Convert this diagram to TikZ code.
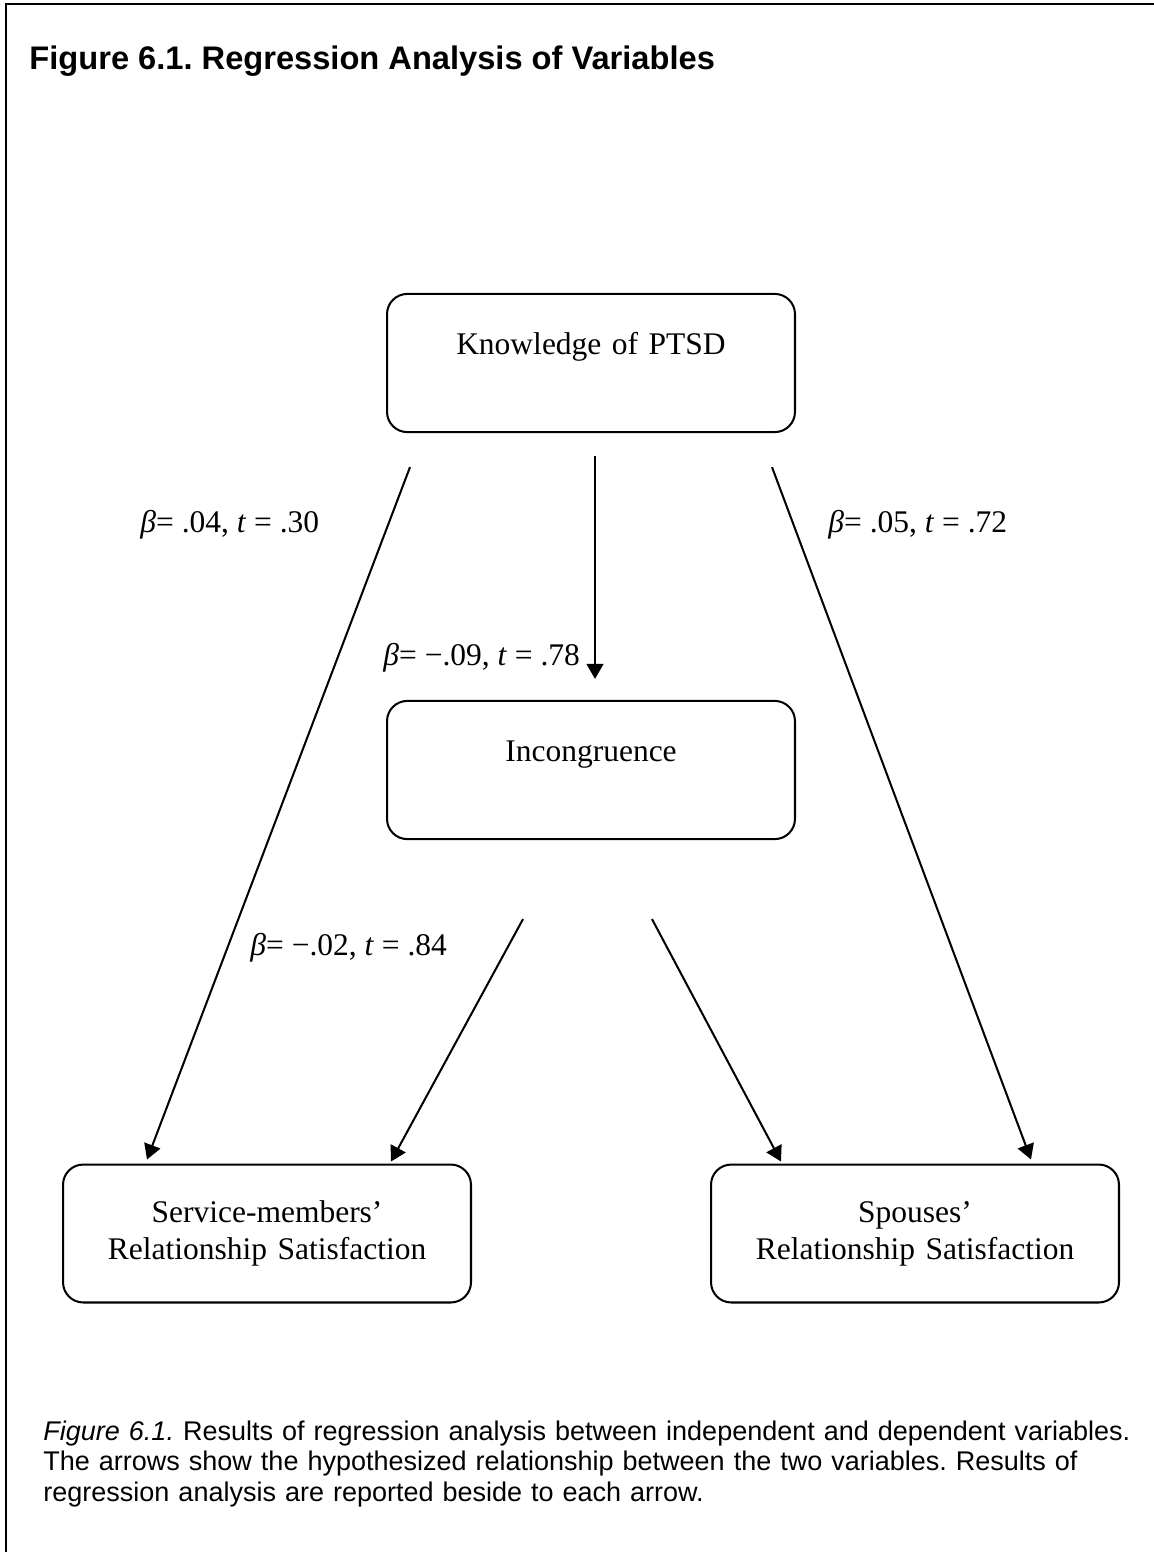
\documentclass[tikz,border=0pt]{standalone}
\usepackage{fontspec}
\setmainfont{Liberation Serif}
\newfontfamily\capfont{Liberation Sans}
\usetikzlibrary{arrows.meta,calc}
\frenchspacing

\begin{document}
\begin{tikzpicture}[x=0.4444pt,y=-0.4444pt,
  varbox/.style={draw,line width=0.9pt,rounded corners=9pt,minimum width=181.3pt,
    minimum height=61.3pt,inner sep=0pt,text width=181.3pt,align=center,
    font=\fontsize{14}{16.4}\selectfont},
  topbox/.style={varbox,text height=26.7pt,text depth=34.7pt},
  arr/.style={line width=0.9pt,-{Triangle[width=7.5pt,length=6.7pt]}},
  coef/.style={anchor=base west,inner sep=0pt,font=\fontsize{14}{16.4}\selectfont}]
\useasboundingbox (0,0) rectangle (1154,1552);
\draw[line width=0.9pt] (6,1552) -- (6,4) -- (1154,4);

\node[anchor=base west,inner sep=0pt,font=\capfont\bfseries\fontsize{14.5}{16}\selectfont] (title) at (29,69) {Figure 6.1. Regression Analysis of Variables};

\node[topbox] (know) at (591,363) {Knowledge of PTSD};
\node[topbox] (incong) at (591,770) {Incongruence};
\node[varbox] (smsat) at (267,1233.5) {Service-members’\\Relationship Satisfaction};
\node[varbox] (spsat) at (915,1233.5) {Spouses’\\Relationship Satisfaction};

\draw[arr] ($(know.south west)+(24,34)$) -- ($(smsat.north west)+(85,-4)$);
\draw[arr] ($(know.south)+(4,23)$) -- ($(incong.north)+(4,-21)$);
\draw[arr] ($(know.south east)+(-24,34)$) -- ($(spsat.north east)+(-89,-4)$);
\draw[arr] ($(incong.south)+(-68,79)$) -- ($(smsat.north east)+(-81,-2)$);
\draw[arr] ($(incong.south)+(61,79)$) -- ($(spsat.north west)+(71,-2)$);

\node[coef] (c1) at (140,532) {\textit{β}= .04, \textit{t} = .30};
\node[coef] (c2) at (383,665) {\textit{β}= −.09, \textit{t} = .78};
\node[coef] (c3) at (828,532) {\textit{β}= .05, \textit{t} = .72};
\node[coef] (c4) at (250,955) {\textit{β}= −.02, \textit{t} = .84};

\node[anchor=base west,inner sep=0pt,text width=500pt,align=left,
  font=\capfont\fontsize{12}{13.7}\selectfont] (caption) at (43,1440)
  {\textit{Figure 6.1.} Results of regression analysis between independent and dependent variables.\\
   The arrows show the hypothesized relationship between the two variables. Results of\\
   regression analysis are reported beside to each arrow.};
\end{tikzpicture}
\end{document}
